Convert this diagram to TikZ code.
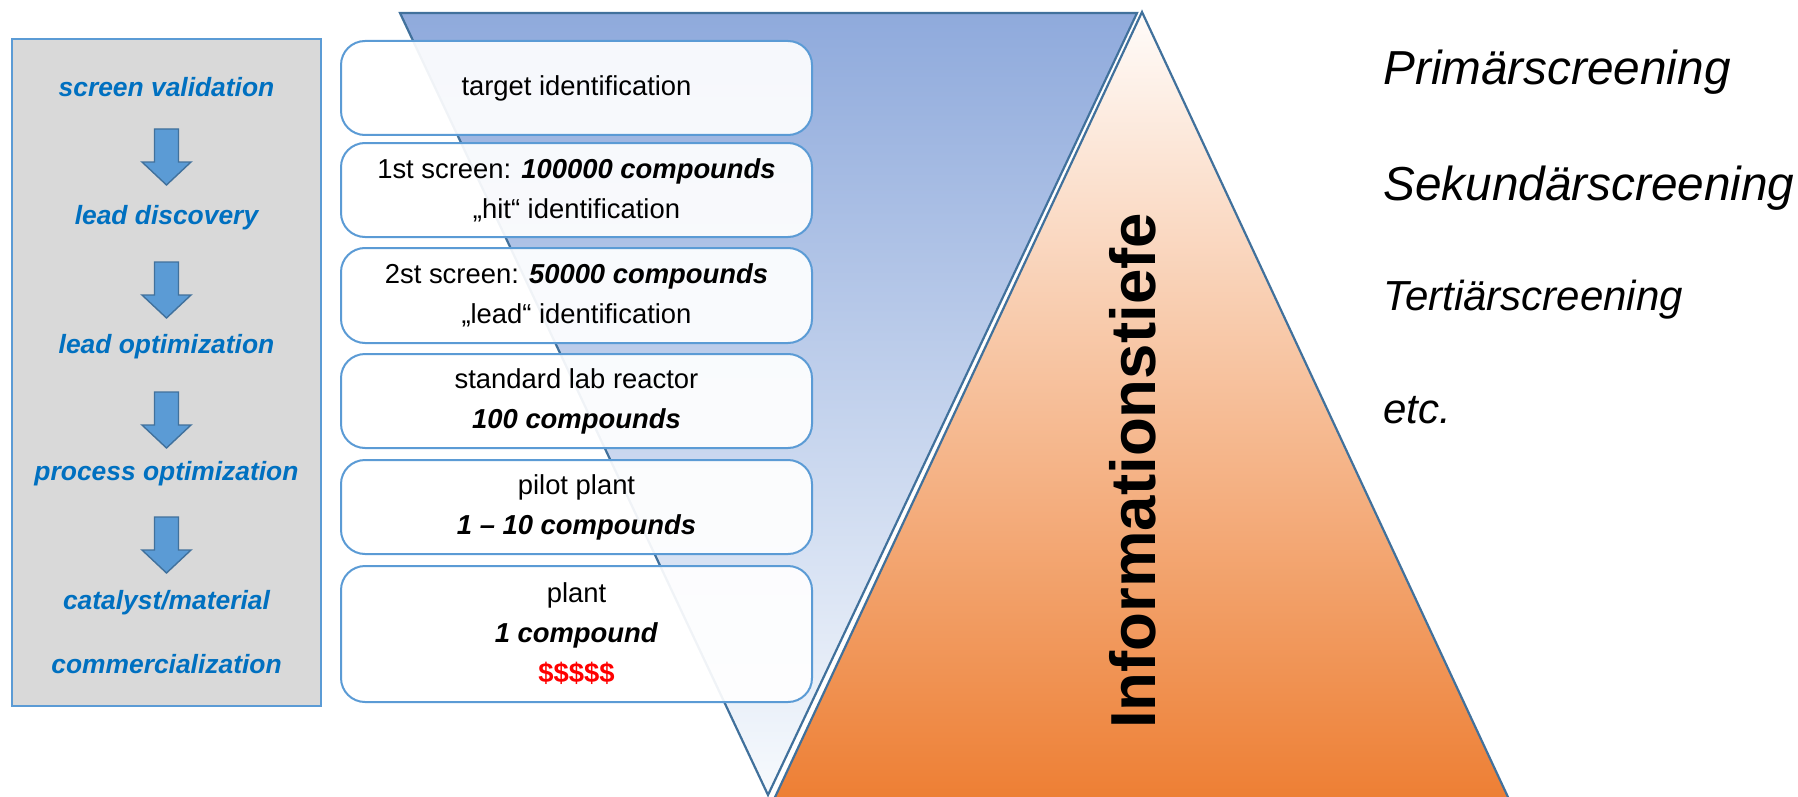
\documentclass[tikz,border=0pt]{standalone}
\usepackage{fontspec}
\setmainfont{Liberation Sans}

\definecolor{panelblue}{RGB}{91,155,213}
\definecolor{edgeblue}{RGB}{65,113,156}
\definecolor{panelgray}{RGB}{217,217,217}
\definecolor{stageblue}{RGB}{0,112,192}
\definecolor{funneltop}{RGB}{143,170,220}
\definecolor{funnelmid}{RGB}{190,209,236}
\definecolor{funnelbot}{RGB}{247,250,253}
\definecolor{peaktop}{RGB}{255,252,250}
\definecolor{peakmid}{RGB}{247,203,172}
\definecolor{peakbot}{RGB}{237,125,49}

\tikzset{
  stagelabel/.style={font=\fontsize{13.2}{16}\selectfont\bfseries\itshape, text=stageblue, anchor=base, inner sep=0pt},
  stagebox/.style={draw=panelblue, line width=1pt, rounded corners=12pt, fill=white, fill opacity=0.92, text opacity=1,
    minimum width=235.5pt, align=center, font=\fontsize{13.7}{20}\selectfont, inner sep=0pt},
  screenlabel/.style={font=\fontsize{23.85}{28}\selectfont\itshape, anchor=base west, inner sep=0pt},
  stagearrow/.pic={\draw[fill=panelblue, draw=edgeblue, line width=0.7pt, line join=miter]
    (-12,0) -- (12,0) -- (12,33) -- (24.5,33) -- (0,56) -- (-24.5,33) -- (-12,33) -- cycle;}
}

\begin{document}
\begin{tikzpicture}[x=0.5pt, y=-0.5pt]
  \clip (0,0) rectangle (1798,797);
  % funnel
  \shade[top color=funneltop, middle color=funnelmid, bottom color=funnelbot] (400,13) -- (1137,13) -- (768,795) -- cycle;
  \draw[edgeblue, line width=1.1pt, line join=miter] (400,13) -- (1137,13) -- (768,795) -- cycle;
  % pyramid
  \shade[top color=peaktop, middle color=peakmid, bottom color=peakbot] (1142,12) -- (1514,810) -- (769,810) -- cycle;
  \draw[edgeblue, line width=1.1pt, line join=miter] (769,810) -- (1142,12) -- (1514,810);

  % stages panel
  \draw[draw=panelblue, fill=panelgray, line width=1.2pt] (12,39) rectangle (321,706);
  \node[stagelabel] (valid) at (166.5,97) {screen validation};
  \node[stagelabel] (disc) at (166.5,224) {lead discovery};
  \node[stagelabel] (leadopt) at (166.5,353) {lead optimization};
  \node[stagelabel] (procopt) at (166.5,480) {process optimization};
  \node[stagelabel] (catmat) at (166.5,609) {catalyst/material};
  \node[stagelabel] (comm) at (166.5,673) {commercialization};
  \foreach \y in {129,262,392,517}
    \pic at (166.5,\y) {stagearrow};

  % screening boxes
  \node[stagebox, minimum height=47pt] (target) at (576.5,88) {target identification};
  \node[stagebox, minimum height=47pt] (first) at (576.5,190) {1st screen: \textbf{\textit{100000 compounds}}\\„hit“ identification};
  \node[stagebox, minimum height=47.5pt] (second) at (576.5,295.5) {2st screen: \textbf{\textit{50000 compounds}}\\„lead“ identification};
  \node[stagebox, minimum height=47pt] (lab) at (576.5,401) {standard lab reactor\\\textbf{\textit{100 compounds}}};
  \node[stagebox, minimum height=47pt] (pilot) at (576.5,507) {pilot plant\\\textbf{\textit{1 – 10 compounds}}};
  \node[stagebox, minimum height=68pt] (plant) at (576.5,634) {plant\\\textbf{\textit{1 compound}}\\\textcolor{red}{\textbf{\$\$\$\$\$}}};

  \node[rotate=90, anchor=base, font=\fontsize{31.8}{36}\selectfont\bfseries, inner sep=0pt] (depth) at (1155,471) {Informationstiefe};

  % screening levels
  \node[screenlabel] (prim) at (1383,85) {Primärscreening};
  \node[screenlabel] (sek) at (1383,200) {Sekundärscreening};
  \node[screenlabel, font=\fontsize{21}{25}\selectfont\itshape] (tert) at (1383,310) {Tertiärscreening};
  \node[screenlabel, font=\fontsize{21}{25}\selectfont\itshape] (etc) at (1383,423) {etc.};
\end{tikzpicture}
\end{document}
